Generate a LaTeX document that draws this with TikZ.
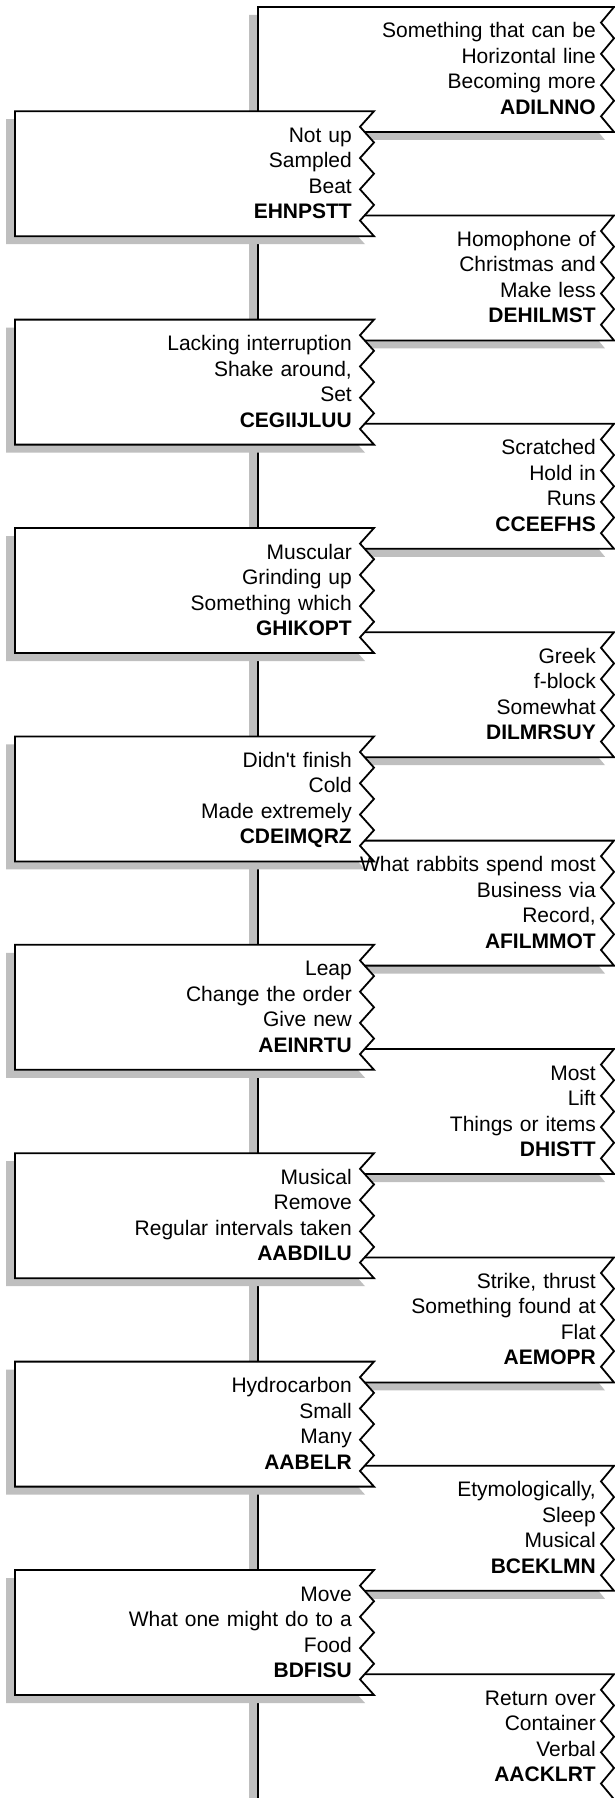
\documentclass[tikz,border=0pt]{standalone}
\usepackage{fontspec}
\setmainfont{Liberation Sans}
\usepackage{tikz}

% outline of a clue box, zigzag on its right side
\newcommand{\cluepath}[4]{(#1,#4) -- (#2,#4)
  \foreach \k in {0,...,3} {-- (#3,#4+15.6+31.25*\k) -- (#2,#4+31.25+31.25*\k)}
  -- (#1,#4+125) -- cycle}
\newcommand{\cluefont}{\fontsize{21}{25}\selectfont\spaceskip=7pt\relax}
\newcommand{\apos}{\textquotesingle}

\begin{document}
\begin{tikzpicture}[x=1pt,y=-1pt,
    boxline/.style={draw=black,line width=1.8pt,fill=white},
    boxshadow/.style={fill=black!25,shift={(-9,8)}},
    clue/.style={anchor=base east,inner sep=0pt,font=\cluefont},
    answer/.style={anchor=base east,inner sep=0pt,font=\fontsize{21}{25}\selectfont\bfseries}]
    \useasboundingbox (0,0) rectangle (615,1798);
    \clip (0,0) rectangle (615,1798);

    % Right column of boxes
    \foreach \j in {0,2,...,16} {
        \pgfmathsetmacro{\t}{7+104.2*\j}
        \fill[boxshadow] \cluepath{258}{614}{601}{\t};
        \filldraw[boxline] \cluepath{258}{614}{601}{\t};
    }

    % Left column of boxes
    \foreach \j in {1,3,...,15} {
        \pgfmathsetmacro{\t}{7+104.2*\j}
        \fill[boxshadow] \cluepath{15}{374}{360}{\t};
        \filldraw[boxline] \cluepath{15}{374}{360}{\t};
    }

    % Clues and answers
    \foreach \j/\a/\b/\c/\d in {
        0/Something that can be/Horizontal line/Becoming more/ADILNNO,
        1/Not up/Sampled/Beat/EHNPSTT,
        2/Homophone of/Christmas and/Make less/DEHILMST,
        3/Lacking interruption/{Shake around,}/Set/CEGIIJLUU,
        4/Scratched/Hold in/Runs/CCEEFHS,
        5/Muscular/Grinding up/Something which/GHIKOPT,
        6/Greek/f-block/Somewhat/DILMRSUY,
        7/Didn\apos{}t finish/Cold/Made extremely/CDEIMQRZ,
        8/What rabbits spend most/Business via/{Record,}/AFILMMOT,
        9/Leap/Change the order/Give new/AEINRTU,
        10/Most/Lift/Things or items/DHISTT,
        11/Musical/Remove/Regular intervals taken/AABDILU,
        12/{Strike, thrust}/Something found at/Flat/AEMOPR,
        13/Hydrocarbon/Small/Many/AABELR,
        14/{Etymologically,}/Sleep/Musical/BCEKLMN,
        15/Move/What one might do to a/Food/BDFISU,
        16/Return over/Container/Verbal/AACKLRT} {
        \pgfmathsetmacro{\t}{7+104.2*\j}
        \pgfmathsetmacro{\tx}{isodd(\j) ? 352 : 596}
        \node[clue] (c\j-a) at (\tx,\t+31) {\a};
        \node[clue] (c\j-b) at (\tx,\t+56.5) {\b};
        \node[clue] (c\j-c) at (\tx,\t+82) {\c};
        \node[answer] (c\j-d) at (\tx,\t+107.5) {\d};
    }
\end{tikzpicture}
\end{document}
